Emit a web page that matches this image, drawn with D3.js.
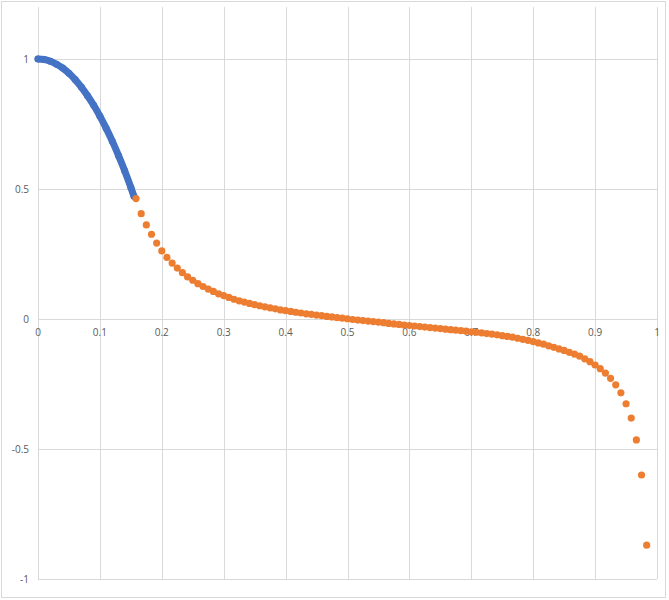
<!DOCTYPE html>
<html>
<head>
<meta charset="utf-8">
<script src="https://cdn.jsdelivr.net/npm/d3@7"></script>
<style>
  html, body { margin: 0; padding: 0; background: #ffffff; }
  #chart { width: 669px; height: 600px; }
  .tick-label { font-family: "Open Sans", "Liberation Sans", sans-serif; font-size: 10px; fill: #595959; }
</style>
</head>
<body>
<div id="chart"></div>
<script>
// blue series: dense samples near x = 0
var blueX = [0, 0.01, 0.02, 0.03, 0.04, 0.05, 0.06, 0.07, 0.08, 0.09, 0.10, 0.11, 0.12, 0.13, 0.14, 0.15, 0.155];
var blueY = [1.000, 0.998, 0.991, 0.980, 0.965, 0.945, 0.921, 0.892, 0.859, 0.822, 0.780, 0.734, 0.684, 0.629, 0.570, 0.506, 0.472];

// orange series: one point every 1/120 from 19/120 to 118/120
var orangeStep = 120;
var orangeStart = 19;
var orangeY = [
  0.463, 0.405, 0.362, 0.326, 0.292, 0.262, 0.237, 0.215, 0.196, 0.178,
  0.162, 0.149, 0.136, 0.125, 0.115, 0.106, 0.097, 0.090, 0.083, 0.076,
  0.070, 0.065, 0.060, 0.055, 0.051, 0.047, 0.043, 0.039, 0.035, 0.032,
  0.029, 0.026, 0.023, 0.020, 0.018, 0.015, 0.013, 0.010, 0.008, 0.005,
  0.003, 0.001, -0.002, -0.004, -0.006, -0.008, -0.010, -0.012, -0.014, -0.017,
  -0.019, -0.021, -0.023, -0.025, -0.027, -0.029, -0.031, -0.033, -0.035, -0.037,
  -0.039, -0.041, -0.043, -0.045, -0.047, -0.049, -0.051, -0.053, -0.056, -0.058,
  -0.061, -0.064, -0.067, -0.070, -0.074, -0.078, -0.082, -0.087, -0.092, -0.097,
  -0.103, -0.109, -0.115, -0.121, -0.128, -0.135, -0.143, -0.153, -0.164, -0.177,
  -0.191, -0.208, -0.228, -0.253, -0.284, -0.326, -0.381, -0.465, -0.600, -0.870
];

var xTicks = [0, 0.1, 0.2, 0.3, 0.4, 0.5, 0.6, 0.7, 0.8, 0.9, 1];
var yTicks = [-1, -0.5, 0, 0.5, 1];

(function() {

  "use strict";

  var width = 669;
  var height = 600;
  var plot = { left: 38, right: 657, top: 7, bottom: 579 };

  var svg = d3.select('#chart').append('svg')
    .attr('width', width)
    .attr('height', height);

  // chart frame
  svg.append('rect')
    .attr('x', 1.5)
    .attr('y', 1.5)
    .attr('width', 664)
    .attr('height', 596)
    .attr('fill', '#ffffff')
    .attr('stroke', '#d9d9d9')
    .attr('stroke-width', 1);

  var x = d3.scaleLinear().domain([0, 1]).range([plot.left, plot.right]);
  var y = d3.scaleLinear().domain([-1, 1.2]).range([plot.bottom, plot.top]);

  var grid = svg.append('g').attr('class', 'grid');

  grid.selectAll('line.v')
    .data(xTicks)
    .enter()
    .append('line')
    .attr('class', 'v')
    .attr('x1', function(d) { return Math.round(x(d)) + 0.5; })
    .attr('x2', function(d) { return Math.round(x(d)) + 0.5; })
    .attr('y1', plot.top)
    .attr('y2', plot.bottom)
    .attr('stroke', '#d9d9d9')
    .attr('stroke-width', 1);

  grid.selectAll('line.h')
    .data(yTicks)
    .enter()
    .append('line')
    .attr('class', 'h')
    .attr('x1', plot.left)
    .attr('x2', plot.right)
    .attr('y1', function(d) { return Math.round(y(d)) + 0.5; })
    .attr('y2', function(d) { return Math.round(y(d)) + 0.5; })
    .attr('stroke', '#d9d9d9')
    .attr('stroke-width', 1);

  // y labels on the left
  svg.append('g').selectAll('text')
    .data(yTicks)
    .enter()
    .append('text')
    .attr('class', 'tick-label')
    .attr('x', plot.left - 9)
    .attr('y', function(d) { return y(d); })
    .attr('dy', '0.35em')
    .attr('text-anchor', 'end')
    .text(function(d) { return d; });

  // x labels hang under the zero line (axis crosses at 0)
  svg.append('g').selectAll('text')
    .data(xTicks)
    .enter()
    .append('text')
    .attr('class', 'tick-label')
    .attr('x', function(d) { return x(d); })
    .attr('y', y(0) + 13)
    .attr('dy', '0.35em')
    .attr('text-anchor', 'middle')
    .text(function(d) { return d; });

  var blue = blueX.map(function(d, i) { return [d, blueY[i]]; });
  var orange = orangeY.map(function(d, i) { return [(orangeStart + i) / orangeStep, d]; });

  // blue markers are packed so tight they read as one thick band
  var line = d3.line()
    .x(function(d) { return x(d[0]); })
    .y(function(d) { return y(d[1]); })
    .curve(d3.curveMonotoneX);

  svg.append('path')
    .datum(blue)
    .attr('d', line)
    .attr('fill', 'none')
    .attr('stroke', '#4472c4')
    .attr('stroke-width', 7)
    .attr('stroke-linecap', 'round')
    .attr('stroke-linejoin', 'round');

  svg.append('g').selectAll('circle')
    .data(blue)
    .enter()
    .append('circle')
    .attr('cx', function(d) { return x(d[0]); })
    .attr('cy', function(d) { return y(d[1]); })
    .attr('r', 3.5)
    .attr('fill', '#4472c4');

  svg.append('g').selectAll('circle')
    .data(orange)
    .enter()
    .append('circle')
    .attr('cx', function(d) { return x(d[0]); })
    .attr('cy', function(d) { return y(d[1]); })
    .attr('r', 3.6)
    .attr('fill', '#ed7d31');
})();
</script>
</body>
</html>
